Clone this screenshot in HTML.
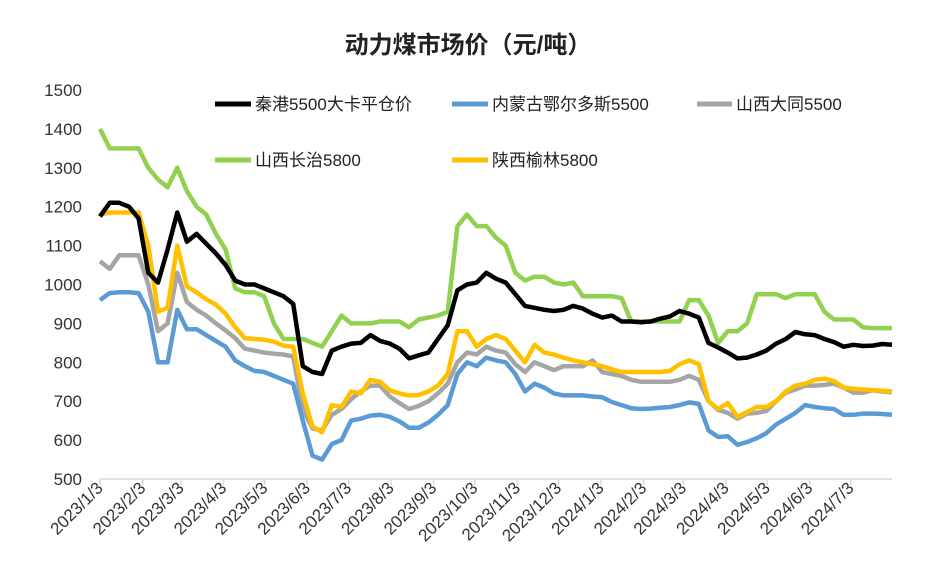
<!DOCTYPE html>
<html><head><meta charset="utf-8"><style>
body{margin:0;background:#fff;}
svg{display:block;font-family:"Liberation Sans","Noto Sans CJK SC",sans-serif;}
</style></head><body>
<svg id="chart" width="936" height="571" viewBox="0 0 936 571">
<text x="468" y="53" text-anchor="middle" font-size="24" font-weight="bold" fill="#222">动力煤市场价（元/吨）</text>
<g id="yaxis"></g>
<g id="xaxis"></g>
<g id="series"></g>
<g>
<g><line x1="215" y1="104" x2="251" y2="104" stroke="#000" stroke-width="5"/><text x="255" y="110" font-size="17" fill="#222">秦港5500大卡平仓价</text></g>
<g><line x1="452" y1="104" x2="488" y2="104" stroke="#5b9bd5" stroke-width="5"/><text x="492" y="110" font-size="17" fill="#222">内蒙古鄂尔多斯5500</text></g>
<g><line x1="697" y1="104" x2="732" y2="104" stroke="#a5a5a5" stroke-width="5"/><text x="736" y="110" font-size="17" fill="#222">山西大同5500</text></g>
<g><line x1="215" y1="160" x2="251" y2="160" stroke="#92d050" stroke-width="5"/><text x="255" y="166" font-size="17" fill="#222">山西长治5800</text></g>
<g><line x1="452" y1="160" x2="488" y2="160" stroke="#ffc000" stroke-width="5"/><text x="492" y="166" font-size="17" fill="#222">陕西榆林5800</text></g>
</g>
</svg>
<script>
const yTicks=[500,600,700,800,900,1000,1100,1200,1300,1400,1500];
const xTickLabels=["2023/1/3","2023/2/3","2023/3/3","2023/4/3","2023/5/3","2023/6/3","2023/7/3","2023/8/3","2023/9/3","2023/10/3","2023/11/3","2023/12/3","2024/1/3","2024/2/3","2024/3/3","2024/4/3","2024/5/3","2024/6/3","2024/7/3"];
const xTickDays=[0,31,59,90,120,151,181,212,243,273,304,334,365,396,425,456,486,517,547];
const weekStep=7;
const qinhuangdao=[1175,1210,1210,1200,1170,1030,1005,1090,1185,1110,1130,1105,1080,1050,1010,1000,1000,990,980,970,950,790,775,770,830,840,848,850,870,855,848,835,810,818,825,860,895,985,1000,1005,1030,1015,1005,975,945,940,935,932,935,945,938,925,915,920,905,905,903,905,912,918,932,925,915,850,838,825,810,812,820,830,848,860,878,872,870,860,852,840,845,842,843,847,845];
const changzhi=[1400,1350,1350,1350,1350,1300,1270,1250,1300,1240,1200,1180,1130,1090,990,980,980,970,900,860,860,860,850,840,880,920,900,900,900,905,905,905,890,910,915,920,930,1150,1180,1150,1150,1120,1100,1030,1010,1020,1020,1005,1000,1005,970,970,970,970,965,905,905,905,905,905,905,960,960,920,850,880,880,900,975,975,975,965,975,975,975,930,910,910,910,890,888,888,888];
const neimenggu=[960,978,980,980,978,930,800,800,935,885,885,870,855,840,805,790,778,775,765,755,745,650,560,550,590,600,650,655,663,665,660,648,632,632,645,665,690,770,800,790,812,805,800,770,725,745,735,720,715,715,715,712,710,698,690,682,680,681,683,685,690,697,693,625,608,610,588,595,605,618,640,655,670,690,685,682,680,665,665,668,668,667,665];
const datong=[1060,1040,1075,1075,1075,1000,880,900,1030,955,935,920,900,882,862,835,830,825,822,820,815,680,630,625,665,680,705,725,740,740,712,695,680,688,700,720,745,800,825,820,840,830,825,795,775,800,790,780,790,790,790,805,775,770,765,755,750,750,750,750,755,765,755,700,678,670,655,668,670,675,700,722,730,740,740,742,745,735,722,722,728,725,723];
const yulin=[1180,1185,1185,1185,1185,1100,930,940,1100,995,980,962,948,925,890,862,860,858,853,843,840,720,635,620,690,685,725,720,755,750,728,720,715,716,725,740,770,880,880,840,860,870,860,830,800,845,825,820,812,805,800,795,790,782,775,775,775,775,775,778,795,805,795,700,680,695,660,672,685,685,700,725,740,745,755,758,752,735,732,730,728,727,725];

const X0=100,X1=892,Y0=479,Y1=90,DMAX=577;
const xS=d=>X0+(d/DMAX)*(X1-X0);
const yS=v=>Y0-(v-500)/1000*(Y0-Y1);
const NS="http://www.w3.org/2000/svg";
const mk=(t,a,p)=>{const e=document.createElementNS(NS,t);for(const k in a)e.setAttribute(k,a[k]);p.appendChild(e);return e;};
const ya=document.getElementById('yaxis');
yTicks.forEach(v=>{
  const t=mk('text',{x:82,y:yS(v)+6,'text-anchor':'end','font-size':17,fill:'#333'},ya);
  
  
  t.textContent=v;
});
const xa=document.getElementById('xaxis');
const al=mk('line',{x1:X0,y1:Y0,x2:X1,y2:Y0,stroke:'#d9d9d9','stroke-width':1.5},xa);


xTickDays.forEach((d,i)=>{
  const x=xS(d);
  const tk=mk('line',{x1:x,y1:Y0,x2:x,y2:Y0+6,stroke:'#d9d9d9','stroke-width':1.5},xa);
  
  
  const t=mk('text',{x:x+4,y:Y0+10,'text-anchor':'end','font-size':17,fill:'#333',transform:`rotate(-45 ${x+4} ${Y0+10})`},xa);
  
  
  t.textContent=xTickLabels[i];
});
const sg=document.getElementById('series');
const defs=[[changzhi,'#92d050','line-changzhi'],[datong,'#a5a5a5','line-datong'],[neimenggu,'#5b9bd5','line-neimenggu'],[yulin,'#ffc000','line-yulin'],[qinhuangdao,'#000','line-qinhuangdao']];
defs.forEach(([arr,c,n])=>{
  const pts=arr.map((v,i)=>xS(Math.min(i*weekStep*(DMAX/(82*7)),DMAX)).toFixed(1)+','+yS(v).toFixed(1)).join(' ');
  const p=mk('polyline',{points:pts,fill:'none',stroke:c,'stroke-width':4.5,'stroke-linejoin':'round'},sg);
  
  
});
</script>
</body></html>
